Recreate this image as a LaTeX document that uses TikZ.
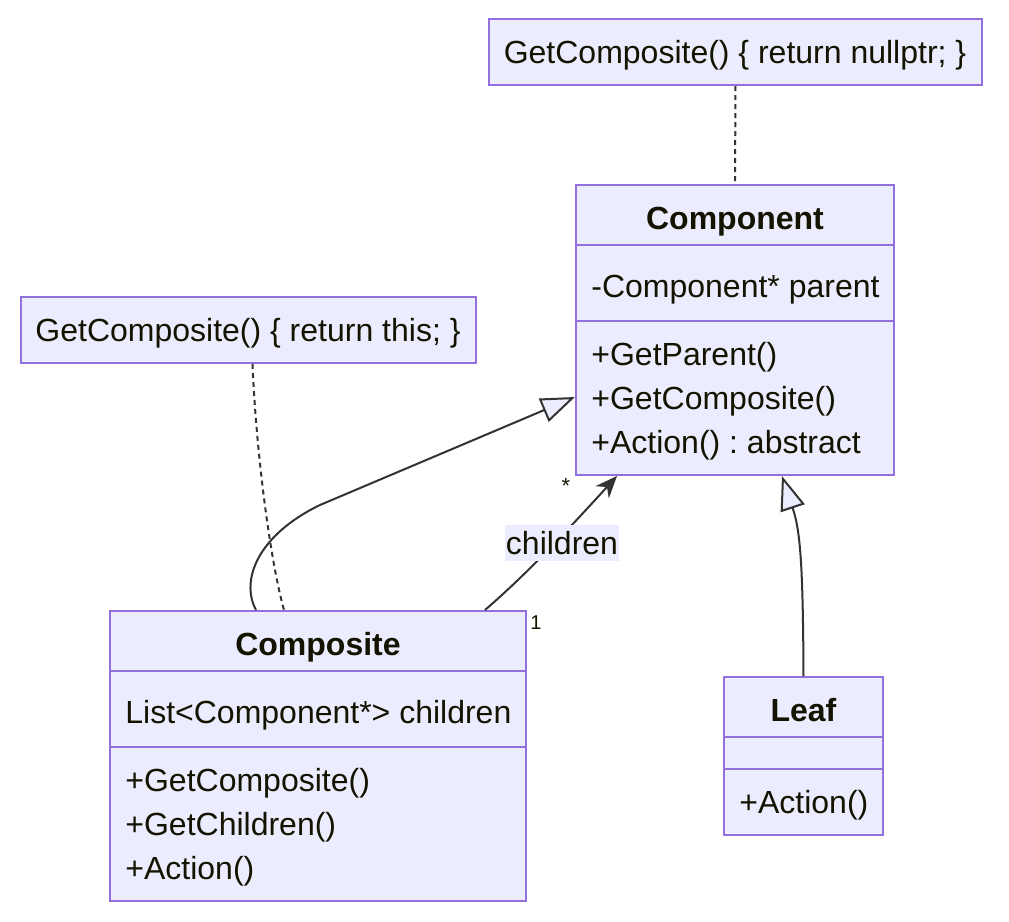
\documentclass[tikz,border=0pt]{standalone}
\usepackage{fontspec}
\setmainfont{Liberation Sans}
\usetikzlibrary{arrows.meta,fit}
\definecolor{boxfill}{HTML}{ECECFF}
\definecolor{boxline}{HTML}{9370DB}
\definecolor{edge}{HTML}{333333}
\definecolor{txt}{HTML}{131300}
\frenchspacing
\begin{document}
\begin{tikzpicture}[x=0.5pt,y=-0.5pt,
 box/.style={draw=boxline, fill=boxfill, line width=1pt, inner sep=0pt},
 sep/.style={draw=boxline, line width=1pt},
 lbl/.style={anchor=base west, inner sep=0pt, text=txt, font=\fontsize{16}{19}\selectfont},
 ttl/.style={anchor=base, inner sep=0pt, text=txt, font=\fontsize{16}{19}\selectfont\bfseries},
 ctr/.style={anchor=base, inner sep=0pt, text=txt, font=\fontsize{16}{19}\selectfont},
 small/.style={inner sep=0pt, text=txt, font=\fontsize{10}{12}\selectfont},
 inherit/.style={draw=edge, line width=1pt, -{Triangle[open, fill=boxfill, length=17pt, width=12.5pt]}},
 assoc/.style={draw=edge, line width=1pt, -{Stealth[length=11pt, width=9pt]}},
 noteline/.style={draw=edge, line width=1pt, dash pattern=on 2.5pt off 2pt}
]
\useasboundingbox (0,0) rectangle (1009,922);

% notes
\node[box, fit={(489,19) (982,85)}] (n1) {};
\node[ctr] (n1t) at (735,63) {GetComposite() \{ return nullptr; \}};
\node[box, fit={(21,297) (476,363)}] (n2) {};
\node[ctr] (n2t) at (248,341) {GetComposite() \{ return this; \}};

% Component
\node[box, fit={(576,185) (894,475)}] (comp) {};
\draw[sep] (576,245) -- (894,245);
\draw[sep] (576,321) -- (894,321);
\node[ttl] (compt) at (735,229) {Component};
\node[lbl] (compa) at (591,297) {-Component* parent};
\node[lbl] (compm1) at (591,365) {+GetParent()};
\node[lbl] (compm2) at (591,409) {+GetComposite()};
\node[lbl] (compm3) at (591,453) {+Action() : abstract};

% Composite
\node[box, fit={(110,611) (526,901)}] (compo) {};
\draw[sep] (110,671) -- (526,671);
\draw[sep] (110,747) -- (526,747);
\node[ttl] (compot) at (318,655) {Composite};
\node[lbl] (compoa) at (125,723) {List<Component*> children};
\node[lbl] (compom1) at (125,791) {+GetComposite()};
\node[lbl] (compom2) at (125,835) {+GetChildren()};
\node[lbl] (compom3) at (125,879) {+Action()};

% Leaf
\node[box, fit={(724,677) (883,835)}] (leaf) {};
\draw[sep] (724,737) -- (883,737);
\draw[sep] (724,769) -- (883,769);
\node[ttl] (leaft) at (803.5,721) {Leaf};
\node[lbl] (leafm1) at (739,813) {+Action()};

% connectors
\draw[noteline] (n1.south) -- (comp.north);
\draw[noteline] ([xshift=2pt]n2.south) .. controls (256,450) and (270,560) .. ([xshift=-17pt]compo.north);

\draw[inherit] ([xshift=-31pt]compo.north) .. controls (240,580) and (258,535) .. (320,505) -- ([yshift=-33.5pt]comp.west);
\draw[inherit] (leaf.north) .. controls (803,560) and (800,530) .. ([xshift=23.5pt]comp.south);
\draw[assoc] ([xshift=83.5pt]compo.north) .. controls (515,584) and (545,555) .. ([xshift=-59pt]comp.south);

\node[ctr, anchor=center, fill=boxfill, inner xsep=0.5pt, minimum height=18pt] (chl) at (562,543) {children};
\node[small, font=\fontsize{11}{12}\selectfont] (star) at (566,486) {*};
\node[small] (one) at (536,623) {1};
\end{tikzpicture}
\end{document}
